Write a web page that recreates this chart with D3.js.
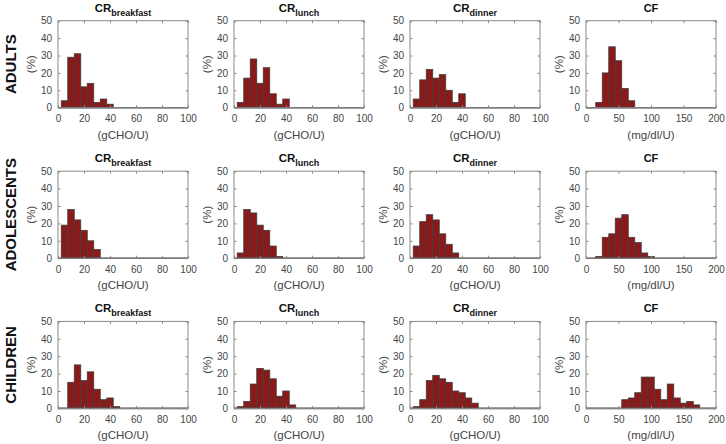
<!DOCTYPE html>
<html><head><meta charset="utf-8">
<script src="https://cdn.jsdelivr.net/npm/d3@7"></script>
<style>body{margin:0;background:#fff}text{font-family:"Liberation Sans",Arial,Helvetica,sans-serif}</style>
</head><body><svg id="c" width="726" height="444"></svg>
<script>
// ---- data (percent of subjects per bin) ----
const rowLabels = ["ADULTS", "ADOLESCENTS", "CHILDREN"];
const panelTitles = ["breakfast", "lunch", "dinner", "CF"];
const crTicks = [0, 20, 40, 60, 80, 100];
const cfTicks = [0, 50, 100, 150, 200];
const yTicks = [0, 10, 20, 30, 40, 50];
const crUnit = "(gCHO/U)";
const cfUnit = "(mg/dl/U)";

// bin centers: CR bins are 5 g/U wide, CF bins are 10 mg/dl/U wide
const adultsBreakfastBins = [5, 10, 15, 20, 25, 30, 35, 40];
const adultsBreakfast     = [4, 29, 31, 12, 14, 3, 5, 2];
const adultsLunchBins     = [5, 10, 15, 20, 25, 30, 35, 40];
const adultsLunch         = [3, 17, 28, 14, 23, 8, 2, 5];
const adultsDinnerBins    = [5, 10, 15, 20, 25, 30, 35, 40];
const adultsDinner        = [5, 16, 22, 17, 19, 10, 3, 8];
const adultsCFBins        = [20, 30, 40, 50, 60, 70];
const adultsCF            = [3, 20, 35, 27, 11, 4];

const adolBreakfastBins   = [5, 10, 15, 20, 25, 30];
const adolBreakfast       = [19, 28, 22, 16, 10, 5];
const adolLunchBins       = [5, 10, 15, 20, 25, 30, 35];
const adolLunch           = [3, 28, 26, 19, 16, 7, 1];
const adolDinnerBins      = [5, 10, 15, 20, 25, 30, 35];
const adolDinner          = [7, 21, 25, 22, 14, 8, 3];
const adolCFBins          = [20, 30, 40, 50, 60, 70, 80, 90, 100];
const adolCF              = [1, 12, 14, 23, 25, 12, 9, 3, 1];

const childBreakfastBins  = [10, 15, 20, 25, 30, 35, 40, 45];
const childBreakfast      = [15, 25, 16, 21, 11, 5, 6, 1];
const childLunchBins      = [5, 10, 15, 20, 25, 30, 35, 40, 45];
const childLunch          = [1, 4, 14, 23, 22, 17, 7, 10, 2];
const childDinnerBins     = [5, 10, 15, 20, 25, 30, 35, 40, 45, 50];
const childDinner         = [1, 5, 16, 19, 17, 15, 10, 9, 6, 3];
const childCFBins         = [60, 70, 80, 90, 100, 110, 120, 130, 140, 150, 160, 170];
const childCF             = [5, 6, 9, 18, 18, 11, 5, 14, 6, 3, 4, 2];

const panels = [
  [[adultsBreakfastBins, adultsBreakfast], [adultsLunchBins, adultsLunch], [adultsDinnerBins, adultsDinner], [adultsCFBins, adultsCF]],
  [[adolBreakfastBins, adolBreakfast], [adolLunchBins, adolLunch], [adolDinnerBins, adolDinner], [adolCFBins, adolCF]],
  [[childBreakfastBins, childBreakfast], [childLunchBins, childLunch], [childDinnerBins, childDinner], [childCFBins, childCF]]
];

// ---- layout ----
const svg = d3.select("#c");
const colLeft = [58, 234, 410, 586];
const rowTop = [20.7, 171.2, 321.4];
const pw = 130, ph = 87;
const barFill = "#8c1919", barEdge = "#3d3d3d", axisCol = "#8a8a8a", textCol = "#454545";

rowLabels.forEach((lab, r) => {
  const cy = rowTop[r] + ph / 2;
  svg.append("text").attr("transform", `translate(15.5,${cy}) rotate(-90)`)
    .attr("text-anchor", "middle").attr("font-size", 15).attr("font-weight", "bold")
    .attr("fill", "#111").text(lab);
});

panels.forEach((row, r) => {
  row.forEach(([bins, vals], c) => {
    const isCF = c === 3;
    const left = colLeft[c], top = rowTop[r];
    const xmax = isCF ? 200 : 100, bw = isCF ? 10 : 5;
    const x = d3.scaleLinear().domain([0, xmax]).range([left, left + pw]);
    const y = d3.scaleLinear().domain([0, 50]).range([top + ph, top]);
    const g = svg.append("g");

    // bars
    g.selectAll("rect.bar").data(vals).enter().append("rect")
      .attr("x", (d, i) => x(bins[i] - bw / 2))
      .attr("width", (d, i) => x(bins[i] + bw / 2) - x(bins[i] - bw / 2))
      .attr("y", d => y(d))
      .attr("height", d => y(0) - y(d))
      .attr("fill", barFill).attr("stroke", barEdge).attr("stroke-width", 0.8);

    // baseline of empty bins
    g.append("line").attr("x1", x(0)).attr("x2", x(xmax)).attr("y1", y(0)).attr("y2", y(0))
      .attr("stroke", "#4a4a4a").attr("stroke-width", 1.6);

    const xt = isCF ? cfTicks : crTicks;
    const styleAxis = sel => {
      sel.select(".domain").remove();
      sel.selectAll("line").attr("stroke", axisCol);
      sel.selectAll("text").attr("fill", textCol).attr("font-size", 10)
        .attr("font-family", '"Liberation Sans",Arial,sans-serif');
    };
    g.append("g").attr("transform", `translate(0,${top + ph})`)
      .call(d3.axisBottom(x).tickValues(xt).tickSizeInner(-2.5).tickSizeOuter(0).tickPadding(7.5)).call(styleAxis);
    g.append("g").attr("transform", `translate(0,${top})`)
      .call(d3.axisTop(x).tickValues(xt).tickSizeInner(-2.5).tickSizeOuter(0).tickFormat("")).call(styleAxis);
    g.append("g").attr("transform", `translate(${left},0)`)
      .call(d3.axisLeft(y).tickValues(yTicks).tickSizeInner(-2.5).tickSizeOuter(0).tickPadding(6)).call(styleAxis);
    g.append("g").attr("transform", `translate(${left + pw},0)`)
      .call(d3.axisRight(y).tickValues(yTicks).tickSizeInner(-2.5).tickSizeOuter(0).tickFormat("")).call(styleAxis);

    // box
    g.append("rect").attr("x", left).attr("y", top).attr("width", pw).attr("height", ph)
      .attr("fill", "none").attr("stroke", axisCol).attr("stroke-width", 1);

    // y label
    g.append("text").attr("transform", `translate(${left - 23.5},${top + ph / 2}) rotate(-90)`)
      .attr("text-anchor", "middle").attr("font-size", 11.5).attr("fill", textCol).text("(%)");
    // x label
    g.append("text").attr("x", left + pw / 2).attr("y", top + ph + 31)
      .attr("text-anchor", "middle").attr("font-size", 11.5).attr("fill", textCol).text(isCF ? cfUnit : crUnit);

    // title
    const t = g.append("text").attr("x", left + pw / 2).attr("y", top - 9)
      .attr("text-anchor", "middle").attr("font-weight", "bold").attr("fill", "#111");
    if (isCF) {
      t.attr("font-size", 11).text("CF");
    } else {
      t.append("tspan").attr("font-size", 11.5).text("CR");
      t.append("tspan").attr("font-size", 9).attr("dy", 4).text(panelTitles[c]);
    }
  });
});
</script></body></html>
